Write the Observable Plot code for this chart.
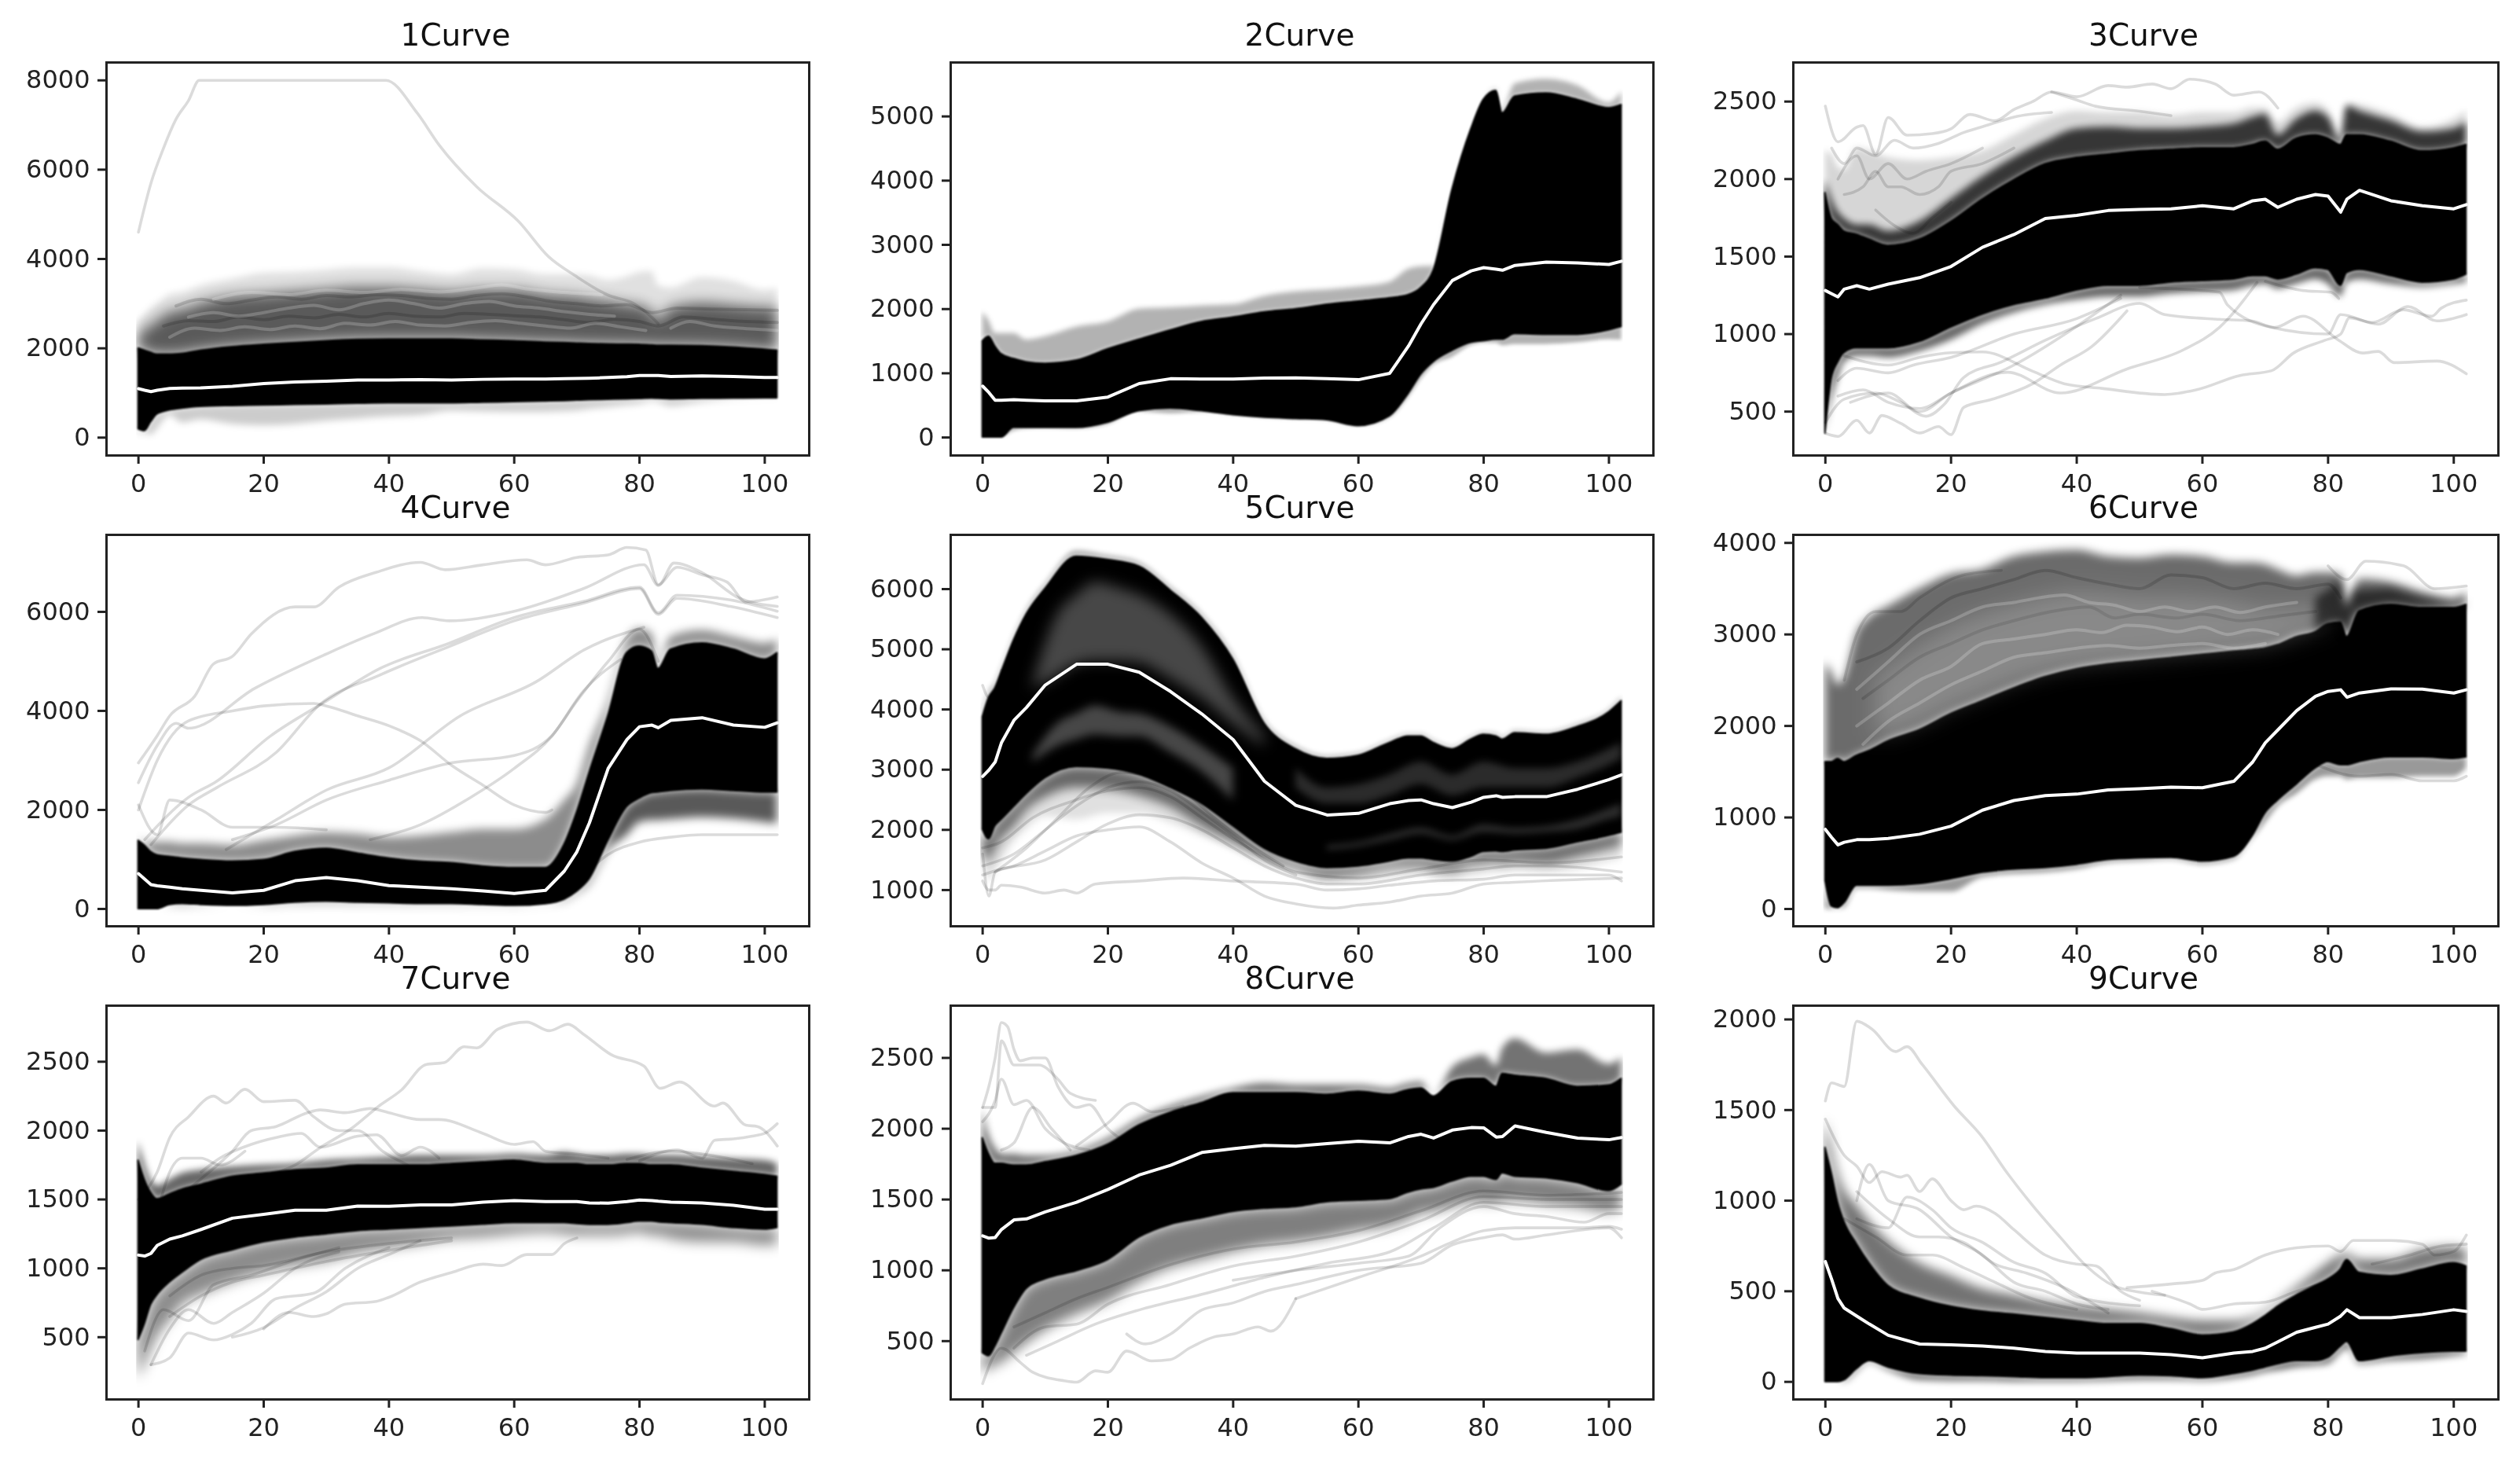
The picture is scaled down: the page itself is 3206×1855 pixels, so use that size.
<!DOCTYPE html>
<html><head><meta charset="utf-8">
<style>html,body{margin:0;padding:0;background:#fff;width:3206px;height:1855px;overflow:hidden}
#root{position:relative;width:3206px;height:1855px}</style>
<script src="https://cdn.jsdelivr.net/npm/d3@7"></script>
<script src="https://cdn.jsdelivr.net/npm/@observablehq/plot@0.6"></script>
</head><body><div id="root"></div>
<script>
// sample positions shared by the envelope series
const grid=[0,1,2,3,5,7,10,15,20,25,30,35,40,45,50,55,60,65,68,70,72,75,78,80,82,83,85,90,95,100,102];
const titles=["1Curve","2Curve","3Curve","4Curve","5Curve","6Curve","7Curve","8Curve","9Curve"];
const xTicks=[0,20,40,60,80,100];

// panel 1
const mean1=[1095,1060,1030,1060,1100,1110,1115,1150,1210,1245,1265,1290,1290,1300,1290,1305,1310,1310,1320,1325,1330,1345,1365,1390,1390,1390,1370,1380,1370,1345,1345];
const hi1=[2000,1950,1900,1860,1860,1880,1950,2030,2080,2120,2160,2190,2200,2200,2200,2180,2160,2130,2120,2110,2100,2090,2085,2080,2070,2060,2060,2050,2020,1970,1950];
const lo1=[190,150,350,520,610,650,690,710,720,735,745,760,770,770,770,785,795,810,820,830,840,850,860,865,875,870,860,870,875,880,880];
const mid1=[2300,2400,2500,2600,2800,2850,3000,3150,3200,3250,3300,3350,3350,3300,3250,3300,3300,3200,3170,3150,3100,3050,2980,2950,2800,2600,2900,3000,2950,2900,2900];
const fhi1=[2620,2750,2900,3000,3200,3250,3400,3550,3680,3700,3750,3800,3800,3720,3650,3780,3760,3650,3650,3650,3620,3520,3600,3700,3720,3400,3350,3580,3500,3300,3330];
const flo1=[80,100,60,200,500,330,400,300,270,300,370,420,470,500,600,580,570,570,585,600,640,680,720,750,810,790,700,790,850,870,870];
const line1a=[[0,4600],[2,5700],[4,6480],[6,7130],[8,7550],[9.7,8000],[39.5,8000],[44.5,7270],[48,6555],[54,5620],[60.7,4840],[65.5,4050],[69.8,3620],[75,3190],[79,3010],[82,2690],[83,2550]];
const white1a=[[5,2250],[9,2450],[13,2400],[17,2480],[21,2420],[25,2500],[29,2440],[33,2560],[37,2520],[41,2600],[45,2520],[49,2500],[53,2580],[57,2620],[61,2560],[65,2500],[69,2450],[73,2560],[77,2480],[81,2400]];
const white1b=[[8,2700],[12,2800],[16,2720],[20,2800],[24,2900],[28,2960],[32,2860],[36,3000],[40,3080],[44,3000],[48,2900],[52,3000],[56,3050],[60,2950],[64,2900],[68,2820],[72,2760],[76,2720]];
const white1c=[[12,3100],[18,3250],[24,3200],[30,3300],[36,3250],[42,3320],[48,3260],[54,3350],[58,3420],[62,3330],[68,3250],[74,3200]];
const white1d=[[85,2450],[88,2600],[92,2500],[96,2450],[102,2400]];
const dark1a=[[4,2500],[8,2620],[12,2600],[16,2700],[20,2640],[24,2720],[28,2680],[32,2760],[36,2700],[40,2780],[44,2720],[48,2700],[52,2780],[56,2760],[60,2730],[64,2700],[68,2640],[72,2580],[76,2650],[80,2600],[83,2500],[87,2700],[92,2650],[97,2600],[102,2580]];
const dark1b=[[6,2950],[10,3100],[14,3000],[18,3080],[22,3150],[26,3100],[30,3180],[34,3150],[38,3200],[42,3180],[46,3120],[50,3100],[54,3180],[58,3220],[62,3150],[66,3050],[70,3000],[74,2950],[78,2980],[82,2800],[86,2900],[92,2880],[102,2850]];

// panel 2
const mean2=[800,700,580,580,590,580,570,570,630,840,915,910,910,925,930,915,900,1000,1425,1770,2070,2445,2595,2645,2620,2605,2680,2730,2720,2695,2745];
const hi2=[1500,1570,1420,1300,1225,1175,1150,1200,1375,1525,1670,1800,1870,1950,2000,2070,2120,2170,2220,2330,2600,3860,4800,5260,5400,5050,5310,5360,5260,5130,5180];
const lo2=[0,0,0,0,150,150,150,150,230,410,450,410,350,310,290,270,180,330,680,980,1175,1350,1475,1500,1525,1525,1610,1600,1600,1670,1720];
const fhi2=[1950,1820,1620,1620,1620,1520,1570,1720,1800,2000,2020,2050,2070,2200,2270,2300,2345,2420,2620,2660,2670,3860,4800,5260,5430,5100,5510,5580,5480,5210,5380];
const flo2=[0,0,0,0,100,130,140,130,200,400,370,390,340,300,280,260,170,300,620,900,1120,1250,1430,1470,1470,1430,1450,1450,1475,1525,1520];

// panel 3
const mean3=[1281,1260,1240,1290,1312,1290,1322,1364,1436,1560,1642,1746,1766,1797,1804,1808,1828,1808,1860,1870,1818,1870,1900,1890,1787,1870,1927,1860,1828,1808,1835];
const hi3=[1910,1745,1705,1663,1642,1611,1570,1611,1725,1870,1994,2097,2138,2159,2180,2190,2200,2200,2221,2242,2190,2262,2283,2262,2221,2283,2283,2242,2180,2200,2221];
const lo3=[360,713,816,878,909,909,909,950,1043,1126,1188,1229,1281,1312,1312,1333,1343,1353,1374,1374,1353,1384,1425,1415,1312,1394,1415,1374,1333,1353,1384];
const mid3=[1994,1870,1787,1746,1704,1704,1663,1725,1870,2014,2138,2242,2324,2335,2324,2324,2335,2355,2397,2417,2283,2386,2438,2397,2242,2469,2438,2376,2304,2324,2365];
const fhi3=[2180,2160,2076,2056,2200,2180,2138,2118,2138,2180,2283,2386,2438,2427,2427,2407,2427,2427,2458,2458,2365,2458,2490,2448,2283,2490,2480,2417,2335,2386,2438];
const flo3=[360,568,713,816,857,857,847,888,961,1064,1136,1188,1219,1240,1240,1260,1271,1281,1312,1322,1291,1322,1353,1322,1240,1333,1353,1322,1302,1322,1333];
const line3a=[[0,2470],[2,2240],[5,2335],[6,2345],[8,2160],[10,2397],[13,2283],[17,2293],[20,2324],[23,2417],[27,2376],[30,2448],[33,2500],[36,2562],[40,2531],[45,2603],[48,2593],[52,2613],[55,2583],[58,2644],[62,2614],[65,2541],[69,2562],[72,2458]];
const line3b=[[36,2562],[40,2510],[43,2470],[50,2438],[55,2410]];
const line3c=[[0,360],[2,340],[5,444],[7,362],[9,475],[12,424],[15,362],[18,403],[20,351],[22,527],[26.4,578],[33,680],[37.4,800],[42.4,920],[48,1150]];
const line3d=[[0,430],[3,580],[8,620],[12,560],[16,470],[19,550],[22,720],[28,820],[35,960],[43,1100],[50,1198],[54,1126],[62.7,1095],[67.8,1085],[71.5,1043],[76,1116],[81.7,960],[85.5,878],[88,888],[90.5,816],[97.3,826],[102,744]];
const line3e=[[3,860],[10,800],[15,850],[20,880],[25,885],[33,760],[38,680],[44,650],[54,610],[59,640],[66,733],[71,764],[74.5,878],[79.5,960],[82,1000],[83.4,1105],[87,1075],[92,1157],[96.5,1115],[98,1167],[102,1219]];
const line3f=[[4,560],[10,620],[15,500],[20,620],[29,754],[37.4,620],[48,775],[57,899],[62.7,1043],[68.7,1333]];
const line3g=[[50,1300],[62.7,1270],[64,1188],[71,1043],[80,1000],[82,1126],[88,1064],[92.7,1178],[97.3,1085],[102,1126]];
const line3h=[[2,700],[5,780],[10,750],[14,800],[20,850],[30,1000],[40,1100],[47,1230]];
const line3i=[[2,600],[6,640],[10,560],[15,520],[20,620],[30,800],[40,1050],[47,1250]];
const line3j=[[70,1340],[76,1281],[80.4,1270],[81.7,1229]];
const line3k=[[3,1900],[6,1950],[8,2050],[10,1950],[12,1950],[15,1900],[18,1950],[20,2050],[25,2100],[30,2200]];
const line3l=[[2,2000],[5,2150],[7,2000],[10,2100],[13,2000],[16,2050],[20,2100],[25,2200]];
const line3m=[[1,2200],[3,2100],[5,2200],[8,2150],[11,2250],[14,2200],[18,2230],[22,2300],[26,2350],[30,2400],[36,2430]];
const line3n=[[8,1800],[11,1700],[14,1650],[17,1750],[20,1850]];

// panel 4
const mean4=[713,603,492,467,440,408,376,324,376,570,635,570,473,440,408,363,311,376,765,1153,1737,2838,3421,3680,3713,3660,3810,3862,3713,3668,3758];
const hi4=[1380,1283,1153,1089,1056,1024,991,959,991,1153,1218,1121,1024,959,927,862,829,829,1300,1950,2750,3900,5170,5300,5200,4850,5240,5365,5240,5040,5170];
const lo4=[0,0,0,0,84,104,84,65,84,130,149,130,117,104,104,84,65,100,190,350,600,1380,2060,2230,2340,2352,2385,2417,2385,2352,2352];
const fhi4=[1413,1348,1348,1348,1348,1315,1315,1283,1380,1477,1542,1510,1445,1477,1542,1607,1607,1801,2190,2514,3292,4199,5430,5657,5560,4944,5495,5625,5495,5365,5430];
const flo4=[0,0,0,0,65,65,65,65,65,100,110,100,90,80,80,65,50,90,150,300,500,1180,1490,1750,1790,1790,1810,1850,1820,1750,1720];
const line4a=[[0,2950],[3,3500],[5,3900],[9,4300],[12,4950],[15,5100],[18,5550],[25,6100],[28,6100],[32,6500],[38,6800],[45,7000],[49,6850],[55,6950],[62,7050],[65,6950],[70,7100],[75,7150],[78,7300],[81,7250],[83,6550],[86,6900],[90,6750],[94,6600],[97,6200],[102,6300]];
const line4b=[[0,2550],[3,3300],[6,3750],[8,3650],[18.6,4458],[29.8,5138],[37.6,5560],[45.3,5884],[49.6,5819],[60,6013],[71,6467],[80.7,6953],[83,6532],[85.5,6985],[90,6791],[96,6273],[102,6110]];
const line4c=[[0,2000],[3,3000],[8,3800],[15,4000],[20,4100],[28,4150],[30,4100],[35,3900],[40,3700],[45,3400],[50,2900],[55,2500],[60,2100],[65,1950],[66,2000]];
const line4d=[[1,1400],[8,2255],[12.5,2580],[21,3486],[30,4200],[38.4,4847],[49.6,5365],[60,5884],[71,6208],[80,6500],[83,5981],[86,6337],[94.5,6240],[102,6013]];
const line4e=[[2,1300],[8,2100],[12.5,2450],[22,3162],[29,4134],[38.4,4717],[49.6,5300],[60,5819],[71,6175],[80,6467],[83,5949],[86,6273],[94.5,6110],[102,5884]];
const line4f=[[15,1400],[22,1700],[30,2200],[40,2600],[50,2950],[60,3100],[66,3500],[70,4200],[75,5000],[80,5650],[83,5000]];
const line4g=[[14,1200],[22,1800],[30,2400],[40,2850],[51.4,3900],[63.5,4588],[71.2,5236],[80.7,5690]];
const line4h=[[37,1400],[45,1700],[53,2250],[60,2838],[66,3486],[71,4393],[77,5041]];
const line4i=[[0,2100],[3,1500],[5,2200],[10,2000],[15,1650],[22,1650],[30,1600]];
const line4j=[[72,800],[75,1100],[80,1350],[85,1450],[90,1500],[100,1500],[102,1500]];

// panel 5
const mean5=[2887,2993,3127,3446,3820,4033,4406,4752,4752,4619,4299,3926,3500,2807,2407,2247,2274,2434,2487,2498,2434,2370,2460,2540,2567,2540,2551,2551,2674,2834,2914];
const hi5=[3873,4193,4353,4619,5152,5578,6005,6538,6485,6378,5978,5525,4832,3766,3340,3180,3233,3446,3553,3553,3446,3340,3500,3580,3553,3500,3606,3580,3713,3953,4139];
const lo5=[2007,1847,2060,2167,2381,2594,2860,3047,3020,2914,2700,2434,2060,1688,1474,1368,1394,1474,1528,1528,1501,1474,1554,1634,1645,1634,1661,1688,1794,1901,1954];
const fhi5=[4000,4300,4450,4700,5230,5660,6090,6640,6560,6450,6050,5600,4920,3840,3400,3230,3280,3490,3590,3590,3490,3380,3540,3620,3600,3540,3650,3620,3760,4000,4200];
const mid5=[1634,1474,1688,1847,2060,2327,2540,2700,2673,2567,2380,2060,1794,1528,1368,1208,1261,1368,1394,1394,1341,1314,1421,1448,1474,1448,1474,1448,1554,1688,1741];
const flo5=[1421,1155,1314,1474,1794,2007,2220,2167,2274,2274,2114,1900,1688,1474,1288,1155,1155,1208,1240,1261,1208,1181,1230,1261,1290,1290,1314,1288,1341,1474,1528];
const gapAx=[8,12,15,18,22,25,30,35,40,45];
const gapAhi=[4406,5578,5898,6111,6005,5898,5578,5045,4193,3553];
const gapAlo=[4353,4566,4752,4806,4806,4779,4512,4193,3766,3393];
const gapBx=[8,12,15,18,22,25,30,35,40];
const gapBhi=[3233,3766,3926,4059,3953,3926,3713,3393,3020];
const gapBlo=[3127,3393,3500,3580,3553,3553,3287,2967,2487];
const gapCx=[50,55,60,65,70,75,80,85,90,95,100,102];
const gapChi=[3020,2700,2753,2913,3127,2913,3127,3020,3020,3127,3340,3447];
const gapClo=[2700,2434,2434,2567,2754,2567,2700,2700,2700,2860,3073,3180];
const gapDx=[55,60,65,70,75,80,85,90,95,100,102];
const gapDhi=[1741,1794,1927,2034,1901,2087,2034,2061,2167,2354,2434];
const gapDlo=[1661,1714,1821,1927,1821,1954,1927,1954,2007,2167,2220];
const line5a=[[0,1150],[1,1000],[2,1000],[3,1080],[6,1050],[10,950],[13,1000],[15,950],[18,1100],[25,1150],[32,1200],[40,1150],[50,1100],[55,1000],[60,1020],[65,1080],[72,1150],[80,1180],[85,1250],[100,1250],[102,1150]];
const line5b=[[0,1600],[1,900],[2,1300],[5,1400],[10,1650],[15,1900],[20,2000],[25,2050],[30,1800],[35,1450],[40,1200],[45,900],[50,770],[56,700],[60,750],[65,800],[70,900],[75,950],[80,1100],[85,1130],[102,1200]];
const line5c=[[0,1250],[3,1350],[10,1500],[15,1800],[20,2100],[25,2250],[30,2200],[35,2000],[40,1700],[45,1400],[50,1200],[55,1100],[60,1100],[70,1250],[80,1350],[85,1400],[90,1400],[102,1300]];
const line5d=[[0,1700],[3,1800],[8,2200],[15,2500],[20,2650],[25,2700],[30,2550],[35,2200],[40,1850],[45,1550],[50,1300],[60,1200],[70,1350],[80,1500],[90,1450],[102,1550]];
const line5e=[[0,4400],[1,4200],[2,4200],[3,4650]];
const line5f=[[0,1400],[5,1600],[10,2000],[15,2400],[20,2700],[25,2800],[30,2650],[35,2300],[40,1900],[45,1500],[50,1250]];
const line5g=[[2,1300],[7,1700],[12,2200],[17,2700],[22,2950],[27,2900],[32,2650],[37,2200],[42,1800],[48,1400]];

// panel 6
const mean6=[870,782,701,729,757,757,771,817,905,1080,1185,1238,1255,1301,1315,1332,1325,1395,1606,1816,1956,2167,2324,2377,2395,2314,2360,2405,2402,2360,2395];
const hi6=[1606,1606,1641,1606,1676,1729,1834,1956,2132,2272,2412,2535,2622,2675,2710,2745,2780,2815,2833,2850,2885,2973,3026,3113,3131,2973,3254,3324,3289,3289,3324];
const lo6=[308,28,10,63,256,256,256,273,326,396,431,449,484,536,554,561,519,571,799,1045,1185,1360,1536,1606,1571,1571,1606,1658,1658,1641,1658];
const fhi6=[2693,2587,2447,2517,3008,3184,3306,3499,3657,3709,3850,3902,3920,3850,3833,3867,3850,3780,3780,3762,3709,3639,3674,3674,3657,3324,3604,3569,3464,3394,3464];
const flo6=[0,0,0,10,221,221,203,186,186,344,379,396,431,501,519,536,484,536,764,940,1115,1255,1413,1448,1448,1413,1430,1430,1448,1448,1536];
const gapEx=[8,15,20,25,30,35,40,45,50,55,60,65,70,75,80];
const gapEhi=[2517,2868,3078,3219,3324,3411,3464,3446,3411,3411,3394,3359,3289,3289,3289];
const gapElo=[1886,2026,2202,2342,2482,2587,2658,2693,2728,2763,2798,2833,2868,2973,3096];
const darkFx=[78,80,82,83,84,85,90,95,100,102];
const darkFhi=[3400,3480,3600,3250,3480,3480,3500,3390,3320,3340];
const darkFlo=[3000,3100,3120,2960,3200,3250,3320,3280,3280,3320];
const line6a=[[80,3750],[83,3600],[86,3800],[92,3750],[97,3500],[102,3530]];
const line6b=[[3,2500],[5,3000],[8,3250],[12,3250],[15,3400],[22,3650],[28,3700]];
const line6c=[[78,1580],[85,1450],[90,1470],[95,1400],[100,1400],[102,1450]];
const white6a=[[5,2400],[10,2700],[15,3000],[20,3150],[25,3300],[30,3350],[34,3400],[38,3430],[42,3350],[46,3320],[50,3250],[54,3300],[58,3250],[62,3300],[66,3240],[70,3300],[75,3350]];
const white6b=[[5,2000],[10,2250],[15,2500],[20,2650],[25,2900],[30,2950],[35,3000],[40,3050],[44,3020],[48,3100],[52,3080],[56,3030],[60,3080],[64,3000],[68,3050],[72,3000]];
const white6c=[[6,1800],[10,2050],[15,2250],[20,2450],[25,2600],[30,2750],[35,2800],[40,2850],[45,2880],[50,2850],[55,2880],[60,2900],[65,2850],[70,2900]];
const dark6a=[[5,2700],[10,2850],[15,3150],[20,3400],[25,3500],[30,3600],[35,3700],[40,3620],[45,3550],[50,3500],[55,3650],[60,3620],[65,3500],[70,3560],[75,3500],[80,3550],[82,3400]];
const dark6b=[[6,2300],[10,2500],[15,2750],[20,2900],[25,3050],[30,3150],[36,3250],[42,3300],[46,3180],[50,3220],[56,3180],[60,3220],[66,3150],[72,3200],[78,3250]];

// panel 7
const mean7=[1096,1089,1108,1166,1212,1236,1282,1364,1392,1422,1422,1452,1450,1461,1461,1480,1492,1485,1485,1485,1475,1473,1485,1496,1492,1487,1480,1475,1457,1429,1429];
const hi7=[1783,1643,1550,1503,1538,1573,1608,1666,1690,1713,1724,1748,1748,1748,1759,1771,1783,1759,1759,1759,1748,1748,1759,1759,1748,1748,1748,1724,1701,1678,1666];
const lo7=[480,595,735,805,898,968,1061,1131,1189,1224,1247,1271,1282,1294,1305,1317,1329,1329,1329,1322,1317,1317,1329,1340,1340,1335,1329,1317,1294,1282,1294];
const fhi7=[1922,1759,1643,1597,1643,1690,1713,1736,1748,1759,1783,1794,1806,1818,1818,1818,1829,1818,1841,1829,1818,1818,1829,1829,1818,1818,1818,1806,1794,1783,1759];
const flo7=[200,293,409,502,619,735,805,898,968,1014,1049,1108,1143,1177,1212,1224,1247,1259,1247,1236,1236,1236,1247,1259,1236,1236,1212,1189,1189,1166,1166];
const line7a=[[20,1667],[25,1750],[29,1876],[34,2015],[38.4,2178],[42,2295],[46,2481],[48.8,2493],[52,2609],[54,2600],[57.4,2737],[62,2788],[65.6,2725],[68.6,2772],[71,2702],[75.5,2551],[80.7,2469],[83.3,2307],[86.4,2353],[92,2178],[93.3,2200],[97,2039],[98.8,2030],[102,1888]];
const line7b=[[0,1500],[3,1700],[5,1950],[8,2100],[12,2250],[14,2200],[17,2300],[20,2210],[25,2220],[28,2100],[32,2000],[35,2000],[39,1850],[43,1750]];
const line7c=[[6,1500],[10,1650],[15,1850],[18,2000],[22,2030],[27,2130],[29,2150],[33,2130],[37,2160],[40,2130],[45,2080],[48,2080],[55,1980],[60,1900],[63,1920],[65,1850],[70,1830],[75,1800]];
const line7d=[[10,1700],[13,1800],[18,1900],[22,1950],[26,1980],[29,1880],[35,1960],[38,1970],[42,1820],[45,1880],[48,1800]];
const line7e=[[78,1790],[85,1850],[90,1830],[94,1800],[98,1760]];
const line7f=[[80,1780],[86,1860],[90,1800],[92,1930],[95,1940],[98,1960],[100,1980],[102,2050]];
const line7g=[[3,1400],[5,1700],[7,1800],[10,1800],[13,1750],[17,1850]];
const line7h=[[20,560],[24,680],[28,650],[30,670],[33,740],[38,760],[40,790],[45,900],[50,970],[55,1030],[58,1020],[62,1100],[66,1100],[68,1180],[70,1220]];
const line7i=[[15,500],[20,570],[25,710],[30,830],[35,1000],[40,1100],[45,1200]];
const line7j=[[2,300],[5,350],[8,530],[12,480],[15,520],[18,600],[22,780],[28,820],[33,1000],[40,1150]];
const line7k=[[2,300],[5,560],[8,700],[12,600],[15,680],[20,820],[25,1000],[32,1120]];
const line7l=[[1,400],[4,700],[8,620],[12,880],[18,950],[25,1060],[32,1150]];
const line7m=[[5,800],[10,950],[15,1000],[20,1020],[30,1120],[40,1180],[50,1220]];
const line7n=[[5,650],[10,800],[15,900],[20,950],[30,1050],[40,1130],[50,1200]];

// panel 8
const mean8=[1243,1227,1232,1288,1356,1363,1413,1481,1571,1673,1741,1832,1859,1882,1877,1895,1911,1900,1945,1961,1934,1990,2008,2006,1941,1945,2020,1974,1934,1922,1938];
const hi8=[1934,1820,1753,1753,1741,1741,1764,1809,1888,2024,2115,2183,2251,2251,2251,2240,2262,2240,2274,2285,2228,2330,2353,2353,2296,2387,2375,2353,2296,2307,2353];
const lo8=[416,394,461,552,733,869,937,994,1073,1232,1322,1367,1413,1435,1447,1481,1492,1503,1549,1571,1583,1628,1662,1662,1639,1685,1662,1651,1617,1560,1605];
const fhi8=[2137,1956,1866,1820,1820,1809,1809,1843,1934,2070,2160,2228,2285,2319,2307,2307,2307,2285,2319,2330,2228,2432,2500,2522,2443,2568,2636,2534,2557,2455,2500];
const flo8=[280,303,326,348,416,484,575,688,779,915,1016,1073,1130,1175,1198,1232,1277,1311,1356,1401,1413,1447,1481,1481,1469,1492,1492,1469,1447,1413,1435];
const line8a=[[0,2150],[1,2300],[2,2500],[3,2750],[4,2720],[5,2560],[6,2480],[8,2500],[10,2500],[12,2300],[15,2150],[17,2170],[20,2000],[23,1900]];
const line8b=[[0,2050],[2,2200],[3,2350],[5,2170],[7,2200],[10,2000],[13,1900],[17,1850]];
const line8c=[[0,2150],[2,2150],[3,2620],[5,2450],[9,2450],[12,2350],[14,2250],[18,2200]];
const line8d=[[3,1850],[5,1900],[8,2150],[11,2000],[14,1850]];
const line8e=[[15,1880],[20,2040],[24,2180],[27,2120],[32,2160]];
const line8f=[[0,200],[3,450],[6,350],[8,280],[13,220],[15,210],[18,290],[20,280],[23,430],[27,360],[30,370],[33,450],[37,530],[40,550],[44,600],[46,570],[50,800]];
const line8g=[[23,550],[26,480],[30,550],[35,720],[40,770],[45,850],[50,900],[60,1000],[70,1050],[75,1180],[80,1230],[83,1250],[85,1220],[90,1250],[100,1300],[102,1230]];
const line8h=[[50,800],[60,950],[70,1100],[75,1200],[80,1280],[85,1300],[90,1300],[95,1300],[100,1310],[102,1290]];
const line8i=[[40,930],[50,1000],[60,1050],[68,1100],[73,1300],[80,1450],[85,1400],[90,1380],[96,1340],[100,1400],[102,1400]];
const line8j=[[5,600],[10,700],[15,800],[20,880],[30,1040],[40,1150],[50,1200],[60,1280],[70,1420],[80,1560],[90,1530],[102,1550]];
const line8k=[[5,450],[10,600],[15,620],[20,760],[30,900],[40,1030],[50,1100],[60,1200],[70,1350],[80,1520],[90,1500],[102,1500]];
const line8l=[[7,400],[12,500],[18,620],[25,720],[35,830],[45,950],[55,1050],[65,1130],[72,1300],[80,1480],[90,1450],[102,1450]];

// panel 9
const mean9=[664,566,460,407,363,319,257,209,204,198,186,168,159,159,159,150,133,159,168,186,221,274,301,319,363,398,354,354,372,398,389];
const hi9=[1292,1151,991,885,761,655,531,460,416,389,372,354,336,319,319,292,257,274,319,363,416,478,531,566,620,673,602,584,620,655,637];
const lo9=[0,0,0,9,71,115,80,44,35,32,27,21,21,27,35,32,21,44,62,80,97,115,115,133,195,221,115,142,159,168,168];
const fhi9=[1451,1292,1151,1062,974,885,779,655,584,513,478,442,416,398,380,354,336,336,354,389,442,522,602,655,699,708,673,673,726,743,726];
const flo9=[0,0,0,0,53,106,62,9,4,4,0,0,0,4,9,9,4,18,35,53,62,80,88,97,159,186,97,115,124,142,150];
const line9a=[[0,1550],[1,1650],[3,1630],[5,1990],[7.4,1947],[11.2,1823],[13,1850],[15.4,1752],[20.5,1522],[24.7,1363],[29,1150],[33,973],[37.4,797],[41.6,637],[45.8,531],[50,495],[54,478]];
const line9b=[[0,1450],[3,1250],[5,1190],[7,1100],[9,1160],[12,1130],[13,1140],[15,1050],[17,1120],[20,1000],[22,950],[24,970],[27,930],[30,840],[35,700],[40,650],[43,640],[47,500],[50,450]];
const line9c=[[5,1000],[7,1200],[10,1000],[15,950],[20,800],[25,700],[30,550],[35,500],[40,430],[45,400]];
const line9d=[[5,900],[10,850],[13,1020],[17,950],[20,850],[25,770],[30,660],[35,600],[40,470],[50,420]];
const line9e=[[5,1050],[10,900],[15,800],[18,800],[22,770],[27,650],[32,600],[38,520],[45,380]];
const line9f=[[3,900],[8,800],[13,700],[17,700],[22,630],[27,550],[32,470],[40,400]];
const line9g=[[48,520],[55,540],[60,560],[62,600],[65,620],[70,700],[75,740],[80,750],[82,720],[84,780],[90,780],[95,760],[97,700],[100,720],[102,810]];
const line9h=[[52,500],[58,430],[60,400],[65,430],[70,440],[75,500],[80,550]];
const line9i=[[87,650],[93,700],[98,750],[102,760]];

const yDomains=[[-400,8400],[-280,5840],[217,2752],[-350,7555],[398,6901],[-189,4088],[48,2907],[88,2869],[-97,2076]];
const yTicks=[[0,2000,4000,6000,8000],[0,1000,2000,3000,4000,5000],[500,1000,1500,2000,2500],[0,2000,4000,6000],[1000,2000,3000,4000,5000,6000],[0,1000,2000,3000,4000],[500,1000,1500,2000,2500],[500,1000,1500,2000,2500],[0,500,1000,1500,2000]];

const colLeft=[135,1209,2281], colRight=[1029,2103,3178];
const rowTop=[79,680,1279], rowBottom=[579,1178,1780];
const mL=135,mR=25,mT=70,mB=70;

const curves=[
 {mean:mean1,hi:hi1,lo:lo1,bands:[[hi1,fhi1,.12,4],[hi1,mid1,.6,9],[flo1,lo1,.2,4]],lines:[line1a],
  darkLines:[dark1a,dark1b],whiteLines:[white1a,white1b,white1c,white1d]},
 {mean:mean2,hi:hi2,lo:lo2,bands:[[hi2,fhi2,.3,3],[flo2,lo2,.3,2]],lines:[]},
 {mean:mean3,hi:hi3,lo:lo3,bands:[[hi3,fhi3,.16,4],[hi3,mid3,.75,5],[flo3,lo3,.6,4]],lines:[line3a,line3b,line3c,line3d,line3e,line3f,line3g,line3h,line3i,line3j,line3k,line3l,line3m,line3n]},
 {mean:mean4,hi:hi4,lo:lo4,bands:[[hi4,fhi4,.45,6],[flo4,lo4,.65,6]],lines:[line4a,line4b,line4c,line4d,line4e,line4f,line4g,line4h,line4i,line4j]},
 {mean:mean5,hi:hi5,lo:lo5,bands:[[hi5,fhi5,.3,3],[flo5,lo5,.12,5],[mid5,lo5,.55,7]],lines:[line5a,line5b,line5c,line5d,line5e,line5f,line5g],
  gaps:[[gapAx,gapAlo,gapAhi,.28,9],[gapBx,gapBlo,gapBhi,.28,6],[gapCx,gapClo,gapChi,.17,5],[gapDx,gapDlo,gapDhi,.17,4]]},
 {mean:mean6,hi:hi6,lo:lo6,bands:[[hi6,fhi6,.58,6],[flo6,lo6,.4,3]],lines:[line6a,line6b,line6c],
  darkLines:[dark6a,dark6b],whiteLines:[white6a,white6b,white6c],
  gaps:[[gapEx,gapElo,gapEhi,.2,14]],darks:[[darkFx,darkFlo,darkFhi,.6,6]]},
 {mean:mean7,hi:hi7,lo:lo7,bands:[[hi7,fhi7,.6,4],[flo7,lo7,.45,8]],lines:[line7a,line7b,line7c,line7d,line7e,line7f,line7g,line7h,line7i,line7j,line7k,line7l,line7m,line7n]},
 {mean:mean8,hi:hi8,lo:lo8,bands:[[hi8,fhi8,.55,5],[flo8,lo8,.5,8]],lines:[line8a,line8b,line8c,line8d,line8e,line8f,line8g,line8h,line8i,line8j,line8k,line8l]},
 {mean:mean9,hi:hi9,lo:lo9,bands:[[hi9,fhi9,.55,7],[flo9,lo9,.6,4]],lines:[line9a,line9b,line9c,line9d,line9e,line9f,line9g,line9h,line9i]}
];

const font='"DejaVu Sans"';
const root=document.getElementById("root");
curves.forEach((c,i)=>{
  const col=i%3,row=Math.floor(i/3);
  const fw=colRight[col]-colLeft[col], fh=rowBottom[row]-rowTop[row];
  const band=(xs,a,b)=>xs.map((x,j)=>({x,a:a[j],b:b[j]}));
  const pairLine=(l,stroke,op,w)=>Plot.line(l,{x:d=>d[0],y:d=>d[1],stroke,strokeOpacity:op,strokeWidth:w,curve:"monotone-x"});
  const marks=[], blurs=[];
  for(const [a,b,op,blur] of c.bands){ blurs.push(blur); marks.push(Plot.areaY(band(grid,a,b),{x:"x",y1:"a",y2:"b",fill:"#000",fillOpacity:op,curve:"monotone-x"})); }
  // blank the blur that spills past the first and last sample
  const [d0,d1]=yDomains[i];
  marks.push(Plot.rect([[-5.1,-0.3],[102.3,107.1]],{x1:d=>d[0],x2:d=>d[1],y1:d0,y2:d1,fill:"#fff"}));
  (c.darkLines||[]).forEach(l=>marks.push(pairLine(l,"#000",.16,4)));
  (c.whiteLines||[]).forEach(l=>marks.push(pairLine(l,"#fff",.2,4)));
  c.lines.forEach(l=>marks.push(pairLine(l,"#000",.14,3.6)));
  blurs.push(1.2);
  marks.push(Plot.areaY(band(grid,c.lo,c.hi),{x:"x",y1:"a",y2:"b",fill:"#000",stroke:"#000",strokeWidth:2,curve:"monotone-x"}));
  (c.gaps||[]).forEach(([xs,a,b,op,blur])=>{ blurs.push(blur); marks.push(Plot.areaY(band(xs,a,b),{x:"x",y1:"a",y2:"b",fill:"#fff",fillOpacity:op,curve:"monotone-x"})); });
  (c.darks||[]).forEach(([xs,a,b,op,blur])=>{ blurs.push(blur); marks.push(Plot.areaY(band(xs,a,b),{x:"x",y1:"a",y2:"b",fill:"#000",fillOpacity:op})); });
  marks.push(Plot.line(band(grid,c.mean,c.mean),{x:"x",y:"a",stroke:"#fff",strokeWidth:4}));
  marks.push(Plot.frame({stroke:"#222",strokeWidth:3}));
  marks.push(Plot.axisX(xTicks,{anchor:"bottom",tickSize:11,tickPadding:13,fontSize:32,label:null,tickFormat:"d",strokeWidth:3,stroke:"#222",fill:"#222"}));
  marks.push(Plot.axisY(yTicks[i],{anchor:"left",tickSize:11,tickPadding:10,fontSize:32,label:null,tickFormat:"d",strokeWidth:3,stroke:"#222",fill:"#222"}));
  marks.push(Plot.text([titles[i]],{frameAnchor:"top",lineAnchor:"bottom",dy:-22,dx:-3,fontSize:39,fill:"#111"}));
  const svg=Plot.plot({width:fw+mL+mR,height:fh+mT+mB,marginLeft:mL,marginRight:mR,marginTop:mT,marginBottom:mB,
    x:{domain:[-5.1,107.1],axis:null},y:{domain:yDomains[i],axis:null},
    style:{background:"transparent",fontFamily:font,overflow:"visible",position:"absolute",left:(colLeft[col]-mL)+"px",top:(rowTop[row]-mT)+"px",maxWidth:"none",filter:"blur(0.6px)"},
    marks});
  svg.querySelectorAll('g[aria-label="area"]').forEach((g,k)=>{ if(blurs[k]) g.style.filter="blur("+blurs[k]+"px)"; });
  root.appendChild(svg);
});
</script></body></html>
